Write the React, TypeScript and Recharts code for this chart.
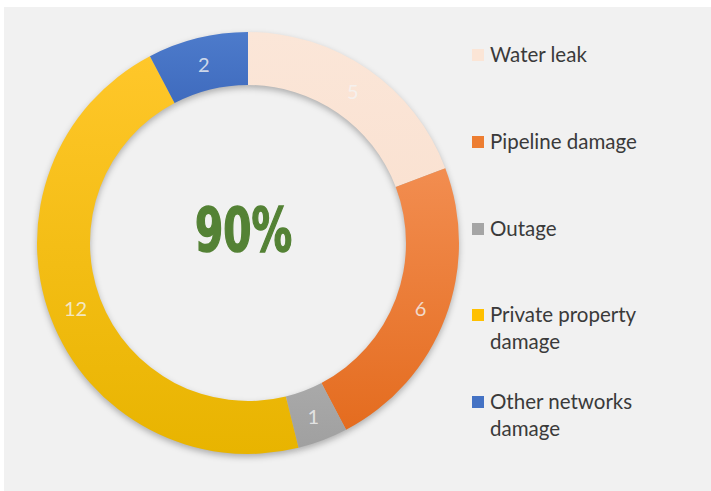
import { PieChart, Pie, Cell, Legend } from "recharts"

const categories = [
  "Water leak",
  "Pipeline damage",
  "Outage",
  "Private property damage",
  "Other networks damage",
]
const counts = [5, 6, 1, 12, 2]
const centerText = "90%"

const swatches = ["#fbe5d6", "#ed7d31", "#a5a5a5", "#ffc000", "#4472c4"]
// top / bottom stops for the slightly shaded excel-look fills
const gradTop = ["#fbe6d8", "#f28d50", "#a9a9a9", "#ffc72a", "#4d7bcb"]
const gradBottom = ["#fae2d2", "#e46c1f", "#a0a0a0", "#e8b400", "#3f6bbe"]

const data = categories.map((name, i) => ({ name, value: counts[i] }))

const RAD = Math.PI / 180

function renderLabel(props: any) {
  const { cx, cy, midAngle, innerRadius, outerRadius, value } = props
  const r = (innerRadius + outerRadius) / 2
  const x = cx + r * Math.cos(-midAngle * RAD)
  const y = cy + r * Math.sin(-midAngle * RAD)
  return (
    <text
      x={x}
      y={y}
      textAnchor="middle"
      dominantBaseline="central"
      fill="#f4f4f4"
      fillOpacity={0.8}
      fontSize={20}
      fontFamily="Lato, 'Open Sans', sans-serif"
    >
      {value}
    </text>
  )
}

function LegendBox() {
  return (
    <div style={{ position: "relative", width: 210, height: 491 }}>
      {categories.map((name, i) => (
        <div
          key={name}
          style={{
            position: "absolute",
            left: 0,
            top: 41 + i * 86.8,
            display: "flex",
            alignItems: "flex-start",
          }}
        >
          <span
            style={{
              width: 12,
              height: 12,
              marginTop: 8,
              background: swatches[i],
              flex: "none",
            }}
          />
          <span
            style={{
              marginLeft: 6,
              width: 175,
              fontFamily: "Lato, 'Open Sans', sans-serif",
              fontSize: 20.5,
              lineHeight: "27px",
              color: "#3a3a3a",
            }}
          >
            {name}
          </span>
        </div>
      ))}
    </div>
  )
}

export default function App() {
  return (
    <div
      style={{
        position: "absolute",
        left: 0,
        top: 0,
        width: 711,
        height: 491,
        background: "#ffffff",
        overflow: "hidden",
      }}
    >
      <div
        style={{
          position: "absolute",
          left: 4,
          top: 7,
          width: 707,
          height: 484,
          background: "#f1f1f1",
        }}
      />
      <div style={{ position: "absolute", left: 0, top: 0 }}>
        <PieChart width={711} height={491}>
          <defs>
            {gradTop.map((c, i) => (
              <linearGradient key={i} id={`g${i}`} x1="0" y1="0" x2="0" y2="1">
                <stop offset="0%" stopColor={c} />
                <stop offset="100%" stopColor={gradBottom[i]} />
              </linearGradient>
            ))}
            <filter id="ringShadow" x="-20%" y="-20%" width="140%" height="140%">
              <feGaussianBlur stdDeviation="3" />
            </filter>
          </defs>
          {/* soft shadow under the ring */}
          <Pie
            data={data}
            dataKey="value"
            cx={243}
            cy={241}
            innerRadius={158}
            outerRadius={211}
            startAngle={90}
            endAngle={-270}
            stroke="none"
            isAnimationActive={false}
            legendType="none"
          >
            {data.map((d) => (
              <Cell key={d.name} fill="#000" fillOpacity={0.28} filter="url(#ringShadow)" />
            ))}
          </Pie>
          <Pie
            data={data}
            dataKey="value"
            cx={243}
            cy={238}
            innerRadius={158}
            outerRadius={211}
            startAngle={90}
            endAngle={-270}
            stroke="none"
            label={renderLabel}
            labelLine={false}
            isAnimationActive={false}
          >
            {data.map((d, i) => (
              <Cell key={d.name} fill={`url(#g${i})`} />
            ))}
          </Pie>
          <Legend
            content={() => <LegendBox />}
            wrapperStyle={{ position: "absolute", left: 472, top: 0, width: 210 }}
          />
        </PieChart>
      </div>
      <svg
        width={711}
        height={491}
        style={{ position: "absolute", left: 0, top: 0, pointerEvents: "none" }}
      >
        <text
          x={243.5}
          y={251}
          textAnchor="middle"
          fontFamily="'DejaVu Sans Condensed', 'DejaVu Sans', sans-serif"
          fontWeight="bold"
          fontSize={60}
          fill="#548235"
          stroke="#548235"
          strokeWidth={1.5}
          textLength={97}
          lengthAdjust="spacingAndGlyphs"
        >
          {centerText}
        </text>
      </svg>
    </div>
  )
}
